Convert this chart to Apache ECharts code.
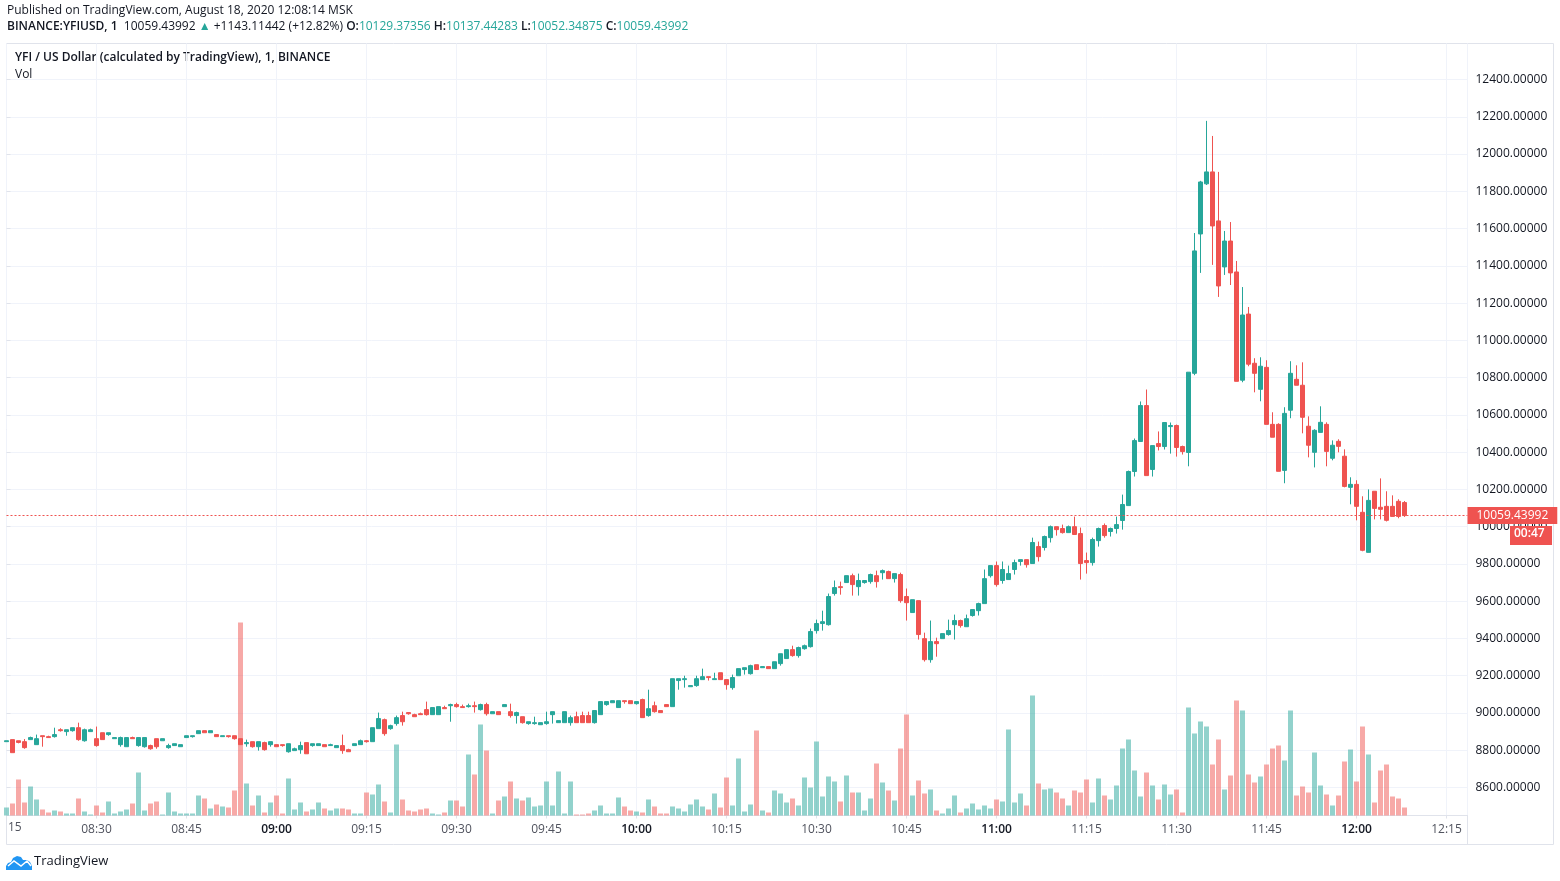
<!DOCTYPE html>
<html>
<head>
<meta charset="utf-8">
<title>YFIUSD</title>
<script src="https://cdn.jsdelivr.net/npm/echarts@6/dist/echarts.min.js"></script>
<style>
  html, body { margin: 0; padding: 0; background: #fff; }
  #chart { width: 1560px; height: 881px; }
</style>
</head>
<body>
<div id="chart"></div>
<script>
// one candle per minute, first one is 08:15
const startMinute = 8 * 60 + 15

const opens = [
  8846,8857,8851,8846,8857,8830,8878,8873,8873,8910,
  8900,8905,8921,8851,8900,8862,8894,8884,8862,8830,
  8819,8868,8825,8819,8825,8862,8851,8814,8825,8819,
  8868,8873,8889,8905,8894,8884,8873,8878,8878,8862,
  8835,8846,8819,8841,8830,8830,8830,8792,8798,8803,
  8841,8825,8825,8830,8825,8814,8825,8803,8825,8830,
  8851,8846,8916,8964,8916,8943,8986,9002,8991,8996,
  9018,8991,8991,9029,9039,9045,9034,9034,9039,9018,
  9045,8996,9007,9034,9007,8986,8980,8943,8943,8937,
  8943,8991,8948,8948,8948,8980,8986,8986,8948,8991,
  9045,9055,9029,9066,9066,9050,9072,8986,9039,9013,
  9045,9034,9174,9179,9141,9147,9179,9195,9179,9216,
  9179,9136,9200,9233,9211,9259,9243,9249,9238,9265,
  9292,9340,9308,9345,9356,9442,9480,9474,9641,9678,
  9700,9737,9678,9700,9705,9737,9753,9759,9721,9743,
  9625,9539,9603,9399,9286,9383,9399,9421,9474,9496,
  9463,9523,9549,9587,9737,9791,9711,9716,9770,9813,
  9823,9802,9893,9888,9941,10000,9990,9968,10000,9963,
  9818,9807,9925,10006,9974,9990,10033,10113,10296,10457,
  10650,10307,10446,10430,10537,10543,10430,10398,10823,11571,
  11840,11904,11641,11394,11533,11367,10786,11141,10877,10737,
  10855,10549,10549,10302,10625,10791,10759,10539,10399,10506,
  10549,10367,10458,10378,10211,10227,10077,9862,10190,10104,
  10109,10109,10136,10129.37356
]
const closes = [
  8851,8787,8842,8814,8868,8862,8873,8868,8884,8905,
  8910,8921,8857,8910,8910,8825,8857,8894,8868,8868,
  8868,8862,8868,8868,8808,8819,8862,8825,8835,8830,
  8878,8878,8905,8894,8905,8873,8878,8873,8862,8830,
  8841,8819,8846,8803,8846,8819,8825,8835,8808,8825,
  8781,8835,8835,8819,8830,8825,8798,8792,8835,8851,
  8846,8921,8970,8889,8932,8975,8953,8996,8980,8991,
  8991,9029,9034,9023,9045,9034,9029,9039,9034,9045,
  8996,9007,8991,9045,8986,9002,8948,8953,8948,8948,
  8953,9007,8959,9007,8975,8948,8948,8948,9013,9061,
  9061,9066,9066,9061,9050,9061,8975,9023,9007,9002,
  9034,9184,9184,9184,9147,9184,9195,9190,9184,9179,
  9152,9190,9238,9243,9254,9233,9249,9238,9275,9318,
  9340,9308,9351,9361,9437,9480,9490,9625,9673,9673,
  9737,9689,9711,9711,9743,9705,9764,9721,9748,9603,
  9592,9608,9421,9286,9383,9372,9426,9442,9496,9469,
  9506,9555,9587,9721,9791,9689,9770,9748,9807,9823,
  9796,9915,9839,9947,10000,9984,9968,10000,9958,9802,
  9807,9931,9990,9952,9990,10011,10119,10296,10462,10650,
  10274,10435,10430,10559,10543,10425,10403,10829,11480,11850,
  11904,11614,11292,11533,11362,10780,11136,10872,10823,10861,
  10549,10480,10297,10608,10823,10759,10587,10437,10517,10560,
  10404,10437,10431,10216,10227,10109,9873,10141,10098,10093,
  10034,10055,10055,10059.43992
]
const lows = [
  8846,8787,8837,8808,8857,8830,8819,8868,8868,8900,
  8878,8900,8851,8846,8900,8819,8857,8878,8862,8819,
  8819,8862,8819,8814,8803,8808,8851,8808,8825,8819,
  8868,8868,8889,8894,8894,8873,8873,8868,8857,8830,
  8819,8814,8798,8798,8819,8819,8819,8787,8798,8781,
  8781,8819,8825,8819,8825,8814,8781,8792,8825,8830,
  8841,8846,8916,8878,8910,8932,8932,8991,8980,8991,
  8986,8991,8991,9023,8953,9029,9029,9029,9002,9013,
  8986,8996,8991,9034,8975,8943,8943,8937,8937,8937,
  8937,8943,8948,8948,8932,8948,8948,8948,8943,8991,
  9039,9055,9029,9050,9050,9045,8975,8980,9002,9002,
  9034,9034,9125,9136,9141,9141,9179,9174,9179,9179,
  9125,9125,9200,9206,9206,9233,9243,9238,9238,9254,
  9292,9302,9297,9340,9351,9426,9442,9469,9630,9635,
  9700,9630,9630,9694,9694,9673,9716,9721,9700,9592,
  9496,9539,9394,9276,9270,9302,9399,9415,9394,9458,
  9463,9517,9523,9587,9727,9678,9694,9716,9743,9791,
  9780,9802,9813,9872,9915,9952,9963,9968,9958,9716,
  9748,9791,9893,9941,9947,9963,9984,10113,10269,10457,
  10274,10269,10409,10414,10392,10376,10387,10324,10813,11362,
  11834,11405,11233,11351,11297,10780,10775,10861,10721,10673,
  10549,10480,10297,10233,10582,10759,10501,10372,10318,10506,
  10324,10356,10399,10211,10120,10034,9868,9862,10039,10039,
  10028,10055,10045,10052.34875
]
const highs = [
  8851,8857,8851,8860,8873,8884,8878,8878,8921,8918,
  8910,8921,8948,8916,8916,8927,8894,8894,8868,8873,
  8868,8873,8868,8868,8830,8862,8862,8835,8835,8830,
  8878,8878,8905,8905,8905,8884,8878,8878,8878,8862,
  8857,8846,8846,8846,8846,8830,8830,8835,8814,8846,
  8841,8835,8835,8830,8835,8825,8884,8808,8835,8857,
  8855,8921,9002,8970,8937,8986,9007,9002,8996,9002,
  9061,9029,9034,9039,9050,9055,9045,9050,9061,9050,
  9055,9007,9007,9045,9050,9007,8980,8953,8980,8948,
  9007,9007,8959,9007,8986,9007,9007,9007,9013,9061,
  9061,9066,9066,9066,9066,9061,9077,9125,9061,9013,
  9045,9184,9184,9200,9147,9200,9238,9195,9216,9216,
  9179,9206,9238,9243,9259,9259,9249,9249,9275,9318,
  9340,9361,9356,9367,9453,9501,9549,9641,9711,9705,
  9737,9748,9748,9711,9748,9764,9770,9764,9748,9753,
  9668,9608,9603,9431,9496,9404,9426,9501,9528,9501,
  9528,9555,9592,9770,9791,9813,9813,9791,9823,9823,
  9823,9941,9920,9952,10006,10000,10011,10006,10054,9995,
  9861,9941,9995,10017,9995,10054,10172,10301,10473,10672,
  10736,10435,10511,10559,10559,10548,10435,10829,11576,11856,
  12178,12097,11904,11587,11635,11426,11286,11179,10904,10909,
  10893,10614,10555,10641,10888,10866,10882,10592,10523,10646,
  10560,10463,10469,10415,10265,10249,10163,10200,10190,10259,
  10190,10168,10147,10137.44283
]
// volume has no scale in the picture, these are relative bar heights
const volumes = [
  24,36,108,39,87,48,18,9,15,12,
  6,6,51,12,3,30,9,42,6,12,
  18,36,129,15,36,42,3,69,12,6,
  6,6,60,51,21,33,27,24,75,579,
  96,30,60,9,39,60,6,111,18,39,
  12,18,39,21,15,21,21,18,6,6,
  69,63,93,42,9,213,48,15,12,18,
  21,6,3,9,45,45,27,183,123,273,
  195,6,45,57,102,51,45,54,27,30,
  102,30,132,6,102,3,3,6,15,30,
  6,6,54,27,15,12,9,48,27,6,
  6,27,21,12,33,48,27,18,66,24,
  114,30,171,12,33,255,15,9,75,66,
  39,51,30,114,84,222,57,117,102,42,
  120,69,69,15,51,156,99,75,45,201,
  303,60,105,66,78,15,6,21,60,9,
  21,36,18,30,21,48,42,258,39,66,
  30,360,96,78,81,69,51,30,75,69,
  108,39,111,60,48,90,201,228,135,57,
  129,90,48,93,63,78,9,324,246,282,
  267,153,228,78,120,345,315,123,99,117,
  153,201,210,165,315,60,87,69,189,90,
  63,30,60,162,198,102,267,183,39,135,
  153,57,51,24
]
const lastPrice = 10059.43992

const UP = '#26a69a'
const DOWN = '#ef5350'
const UP_VOL = 'rgba(38,166,154,0.5)'
const DOWN_VOL = 'rgba(239,83,80,0.5)'
const GRID = '#f0f3fa'
const BORDER = '#e0e3eb'
const TEXT = '#131722'
const FONT = '"Open Sans", "Noto Sans", sans-serif'

function timeLabel(i) {
  const t = startMinute + i
  const h = Math.floor(t / 60)
  const m = t % 60
  return String(h).padStart(2, '0') + ':' + String(m).padStart(2, '0')
}

const chart = echarts.init(document.getElementById('chart'))
const xRange = { type: 'value', min: 0, max: 243.5, interval: 15 }

chart.setOption({
  animation: false,
  textStyle: { fontFamily: FONT },
  grid: [
    { left: 6.5, width: 1461, top: 79.5, height: 708 },
    { left: 6.5, width: 1461, top: 43.5, height: 772 }
  ],
  xAxis: [
    Object.assign({ gridIndex: 0, show: false }, xRange),
    Object.assign({
      gridIndex: 1,
      axisLine: { lineStyle: { color: BORDER } },
      axisTick: { length: 3, lineStyle: { color: BORDER } },
      splitLine: { show: true, lineStyle: { color: GRID } },
      axisLabel: {
        margin: 8,
        fontSize: 12,
        fontFamily: FONT,
        color: '#50535e',
        showMinLabel: false,
        showMaxLabel: false,
        formatter: v => {
          if (v % 15 !== 0 || v === 0) return ''
          const s = timeLabel(v)
          return s.endsWith(':00') ? '{b|' + s + '}' : s
        },
        rich: { b: { color: TEXT, fontSize: 12, fontFamily: FONT, fontWeight: 600 } }
      }
    }, xRange)
  ],
  yAxis: [
    {
      gridIndex: 0,
      type: 'value',
      position: 'right',
      min: 8600,
      max: 12400,
      interval: 200,
      axisLine: { show: false },
      axisTick: { show: true, length: 4, lineStyle: { color: BORDER } },
      splitLine: { show: true, lineStyle: { color: GRID } },
      axisLabel: {
        margin: 8,
        fontSize: 12,
        fontFamily: FONT,
        color: TEXT,
        formatter: v => v.toFixed(5)
      }
    },
    {
      gridIndex: 1,
      type: 'value',
      min: 0,
      max: 2316,
      show: false
    }
  ],
  series: [
    {
      name: 'YFIUSD',
      type: 'candlestick',
      xAxisIndex: 0,
      yAxisIndex: 0,
      barWidth: 4,
      z: 3,
      data: opens.map((o, i) => [i, o, closes[i], lows[i], highs[i]]),
      itemStyle: {
        color: UP,
        color0: DOWN,
        borderColor: UP,
        borderColor0: DOWN,
        borderWidth: 1
      },
      markLine: {
        silent: true,
        symbol: 'none',
        animation: false,
        lineStyle: { color: DOWN, type: [2, 2], width: 1 },
        label: {
          show: true,
          position: 'end',
          distance: 0,
          formatter: () => lastPrice.toFixed(5),
          color: '#fff',
          fontSize: 12,
          fontFamily: FONT,
          backgroundColor: DOWN,
          padding: [3, 9, 2, 9]
        },
        data: [{ yAxis: lastPrice }]
      }
    },
    {
      name: 'Vol',
      type: 'bar',
      xAxisIndex: 1,
      yAxisIndex: 1,
      barWidth: 5,
      z: 4,
      data: volumes.map((v, i) => ({
        value: [i, v],
        itemStyle: { color: closes[i] >= opens[i] ? UP_VOL : DOWN_VOL }
      }))
    }
  ],
  graphic: [
    { type: 'rect', silent: true, z: 0, shape: { x: 6.5, y: 43.5, width: 1547, height: 801 },
      style: { fill: 'none', stroke: BORDER, lineWidth: 1 } },
    { type: 'line', silent: true, shape: { x1: 1467.5, y1: 43.5, x2: 1467.5, y2: 844.5 },
      style: { stroke: BORDER, lineWidth: 1 } },
    { type: 'text', left: 7, top: 5, style: {
      text: 'Published on TradingView.com, August 18, 2020 12:08:14 MSK',
      font: '12px ' + FONT, fill: TEXT } },
    { type: 'text', left: 7, top: 21, style: {
      text: '{b|BINANCE:YFIUSD, 1}  10059.43992 {g|▲} +1143.11442 (+12.82%) {b|O:}{g|10129.37356} {b|H:}{g|10137.44283} {b|L:}{g|10052.34875} {b|C:}{g|10059.43992}',
      font: '12px ' + FONT, fill: TEXT,
      rich: {
        b: { font: '600 12px ' + FONT, fill: TEXT },
        g: { font: '12px ' + FONT, fill: UP }
      } } },
    { type: 'text', left: 15, top: 52, style: {
      text: 'YFI / US Dollar (calculated by TradingView), 1, BINANCE',
      font: '600 12px ' + FONT, fill: TEXT } },
    { type: 'text', left: 15, top: 69, style: { text: 'Vol', font: '12px ' + FONT, fill: TEXT } },
    { type: 'text', left: 8, top: 822, style: { text: '15', font: '12px ' + FONT, fill: '#50535e' } },
    // countdown under the price tag
    { type: 'rect', silent: true, z: 10, shape: { x: 1510, y: 526, width: 42, height: 19 },
      style: { fill: DOWN } },
    { type: 'text', z: 11, left: 1514, top: 528, style: {
      text: '00:47', font: '600 12px ' + FONT, fill: '#fff' } },
    // logo
    { type: 'polygon', silent: true, shape: { points: [
      [6, 870], [6, 866], [8, 863], [11, 862], [13, 858], [17, 856], [21, 857], [23, 860],
      [27, 860], [30, 862], [32, 866], [32, 870]] },
      style: { fill: '#2196f3' } },
    { type: 'polyline', silent: true, shape: { points: [[8, 866], [14, 861], [21, 866], [27, 861], [31, 866]] },
      style: { stroke: '#fff', lineWidth: 1.5, fill: 'none' } },
    { type: 'text', left: 34, top: 855, style: { text: 'TradingView', font: '13px ' + FONT, fill: TEXT } }
  ]
})

window.addEventListener('resize', () => chart.resize())
</script>
</body>
</html>
